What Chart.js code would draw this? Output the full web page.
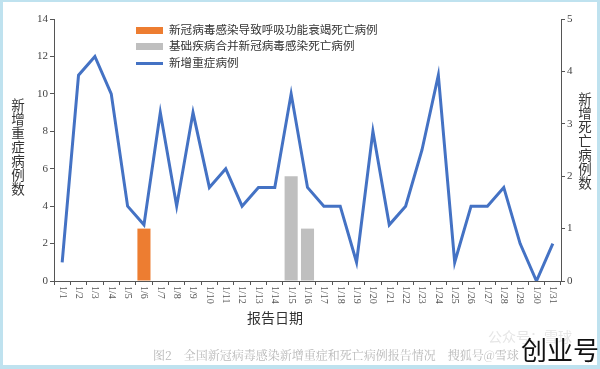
<!DOCTYPE html>
<html><head><meta charset="utf-8">
<script src="https://cdn.jsdelivr.net/npm/chart.js@4.4.1/dist/chart.umd.min.js"></script>
<style>
html,body{margin:0;padding:0;background:#fff;}
#wrap{position:relative;width:600px;height:369px;overflow:hidden;background:#fff;font-family:"Noto Sans CJK SC","Noto Sans",sans-serif;}
canvas{position:absolute;left:0;top:0;}
.b{position:absolute;background:#bfe2ef;}
.vt{position:absolute;writing-mode:vertical-rl;text-orientation:upright;font-size:13.5px;line-height:16px;color:#333;letter-spacing:0.5px;}
.leg{position:absolute;left:136px;font-size:11.6px;color:#333;white-space:nowrap;}
.leg i{position:absolute;left:0;width:27px;}
.leg span{position:absolute;left:33px;top:-9px;}
</style></head>
<body><div id="wrap">
<canvas id="c" width="600" height="369"></canvas>
<div class="b" style="left:0;top:0;width:600px;height:2px"></div>
<div class="b" style="left:0;top:0;width:3px;height:369px"></div>
<div class="b" style="right:0;top:0;width:3px;height:369px"></div>
<div class="b" style="left:0;bottom:0;width:600px;height:4px"></div>
<div class="vt" style="left:10px;top:98px;">新增重症病例数</div>
<div class="vt" style="left:577px;top:92px;">新增死亡病例数</div>
<div id="legend"></div>
<div style="position:absolute;left:247px;top:307px;font-size:14px;color:#333;">报告日期</div>
<div style="position:absolute;left:153px;top:346px;font-size:12px;color:#b8b8b8;font-family:'Noto Serif CJK SC','Noto Sans CJK SC',serif;white-space:nowrap;">图2　全国新冠病毒感染新增重症和死亡病例报告情况　搜狐号@雪球</div>
<div style="position:absolute;left:488px;top:326px;font-size:14px;color:#e6e6e6;white-space:nowrap;">公众号：雪球</div>
<div style="position:absolute;left:521px;top:332px;font-size:26px;color:#111;white-space:nowrap;line-height:34px;">创业号</div>
</div>
<script>
const labels = ['1/1','1/2','1/3','1/4','1/5','1/6','1/7','1/8','1/9','1/10','1/11','1/12','1/13','1/14','1/15','1/16','1/17','1/18','1/19','1/20','1/21','1/22','1/23','1/24','1/25','1/26','1/27','1/28','1/29','1/30','1/31'];
const severeCases = [1,11,12,10,4,3,9,4,9,5,6,4,5,5,10,5,4,4,1,8,3,4,7,11,1,4,4,5,2,0,2];
const respFailureDeaths = [null,null,null,null,null,1,null,null,null,null,null,null,null,null,null,null,null,null,null,null,null,null,null,null,null,null,null,null,null,null,null];
const comorbidityDeaths = [null,null,null,null,null,null,null,null,null,null,null,null,null,null,2,1,null,null,null,null,null,null,null,null,null,null,null,null,null,null,null];
const seriesNames = ['新冠病毒感染导致呼吸功能衰竭死亡病例','基础疾病合并新冠病毒感染死亡病例','新增重症病例'];
const leftTicks = [0,2,4,6,8,10,12,14];
const rightTicks = [0,1,2,3,4,5];

const colors = ['#ED7D31','#BFBFBF','#4472C4'];
// HTML legend
const lg = document.getElementById('legend');
[[30,'rect'],[46,'rect'],[63,'line']].forEach((r,i)=>{
  const d=document.createElement('div');d.className='leg';d.style.top=r[0]+'px';
  const sw=document.createElement('i');
  if(r[1]==='rect'){sw.style.top='-3px';sw.style.height='7px';}else{sw.style.top='-1.5px';sw.style.height='3px';}
  sw.style.background=colors[i];
  const t=document.createElement('span');t.textContent=seriesNames[i];
  d.appendChild(sw);d.appendChild(t);lg.appendChild(d);
});

const xLabelPlugin = {
  id:'xlabels',
  afterDraw(chart){
    const ctx=chart.ctx, xs=chart.scales.x;
    ctx.save();
    ctx.fillStyle='#555';
    ctx.font='10px "Liberation Serif", serif';
    ctx.textAlign='left';ctx.textBaseline='middle';
    labels.forEach((l,i)=>{
      const x=xs.getPixelForTick(i);
      ctx.save();ctx.translate(x,286);ctx.rotate(Math.PI/2);ctx.fillText(l,0,0);ctx.restore();
    });
    ctx.restore();
  }
};

const axisColor='#555';
new Chart(document.getElementById('c'),{
  type:'bar',
  data:{labels,datasets:[
    {type:'line',label:seriesNames[2],data:severeCases,yAxisID:'y',borderColor:colors[2],backgroundColor:colors[2],borderWidth:3,pointRadius:0,tension:0,order:0},
    {label:seriesNames[0],data:respFailureDeaths,yAxisID:'y1',backgroundColor:colors[0],grouped:false,barPercentage:0.8,categoryPercentage:1,order:1},
    {label:seriesNames[1],data:comorbidityDeaths,yAxisID:'y1',backgroundColor:colors[1],grouped:false,barPercentage:0.8,categoryPercentage:1,order:1}
  ]},
  options:{
    responsive:false,animation:false,
    layout:{padding:{top:19,left:0,right:0,bottom:0}},
    plugins:{legend:{display:false},tooltip:{enabled:false}},
    scales:{
      x:{
        grid:{drawOnChartArea:false,drawTicks:true,tickLength:4,color:axisColor},
        border:{display:true,color:axisColor,width:1},
        ticks:{display:false},
        afterFit(s){s.height=88;}
      },
      y:{
        position:'left',min:0,max:14,
        afterBuildTicks(s){s.ticks=leftTicks.map(v=>({value:v}));},
        grid:{drawOnChartArea:false,drawTicks:true,tickLength:4,color:axisColor},
        border:{display:true,color:axisColor,width:1},
        ticks:{color:'#444',padding:2,font:{family:'"Liberation Serif", serif',size:11}},
        afterFit(s){s.width=54;}
      },
      y1:{
        position:'right',min:0,max:5,
        afterBuildTicks(s){s.ticks=rightTicks.map(v=>({value:v}));},
        grid:{drawOnChartArea:false,drawTicks:true,tickLength:4,color:axisColor},
        border:{display:true,color:axisColor,width:1},
        ticks:{color:'#444',padding:2,font:{family:'"Liberation Serif", serif',size:11}},
        afterFit(s){s.width=39;}
      }
    }
  },
  plugins:[xLabelPlugin]
});
</script>
</body></html>
